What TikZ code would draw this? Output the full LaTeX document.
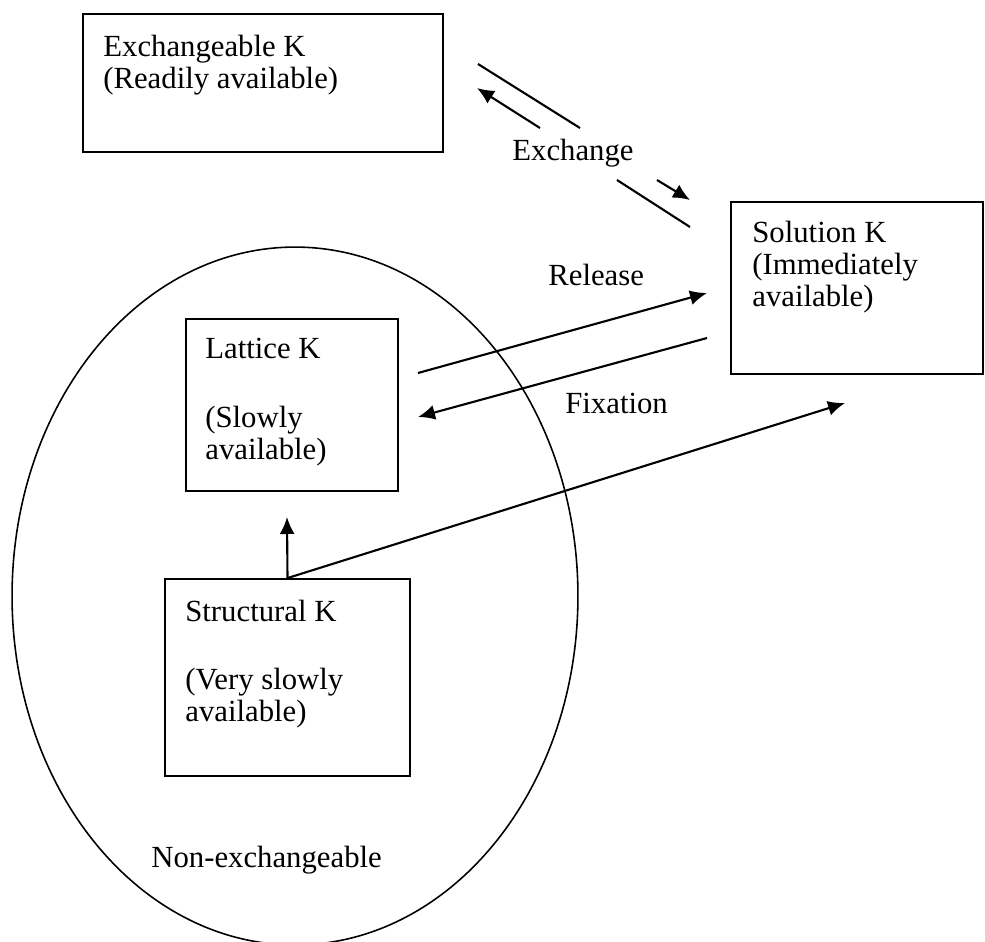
\documentclass[tikz,border=0pt]{standalone}
\usepackage{fontspec}
\setmainfont{Liberation Serif}
\usetikzlibrary{positioning,arrows.meta}
\tikzset{
potbox/.style={rectangle, draw=black, line width=1.1pt, inner sep=0pt},
ktext/.style={align=left, inner sep=0pt, anchor=base west, font=\fontsize{17.5pt}{18.2pt}\selectfont},
flow/.style={line width=1.2pt},
>={Latex[width=3mm,length=3.4mm]},
}
\begin{document}
\begin{tikzpicture}[x=0.02cm, y=-0.02cm]

\clip (0,0) rectangle (985,941);

%Potassium pools
\node[potbox, minimum width=7.2cm, minimum height=2.76cm] (exchbox) at (263,83) {};
\node[potbox, minimum width=5.04cm, minimum height=3.44cm] (solbox) at (857,288) {};
\node[potbox, minimum width=4.24cm, minimum height=3.44cm] (latbox) at (292,405) {};
\node[potbox, minimum width=4.9cm, minimum height=3.94cm] (strbox) at (287.5,677.5) {};
\draw[line width=0.9pt] (295,596) ellipse [x radius=5.66cm, y radius=6.98cm];

% text anchored at the baseline of its last line
\node[ktext] (exchtext) at (103,88) {Exchangeable K\\(Readily available)};
\node[ktext] (soltext) at (752,306) {Solution K\\(Immediately\\available)};
\node[ktext] (lattext) at (205,459) {Lattice K\\[0.74cm](Slowly\\available)};
\node[ktext] (strtext) at (185,721) {Structural K\\[0.72cm](Very slowly\\available)};

%Labels
\node[ktext] (exchange) at (512,160) {Exchange};
\node[ktext] (release) at (548,285) {Release};
\node[ktext] (fixation) at (565,413) {Fixation};
\node[ktext] (nonexch) at (151,867) {Non-exchangeable};

%Arrow ends
\coordinate (ex1) at (478,64);
\coordinate (ex2) at (580,128);
\coordinate (ex3) at (617,180);
\coordinate (ex4) at (690,227);
\coordinate (ea1) at (540,128);
\coordinate (ea2) at (477,88);
\coordinate (ea3) at (657,180);
\coordinate (ea4) at (690,200);
\coordinate (rel1) at (418,373);
\coordinate (rel2) at (707,293);
\coordinate (fix1) at (707,338);
\coordinate (fix2) at (418,417);
\coordinate (tolat) at (287,517);
\coordinate (tosol) at (845,403);

\draw[flow] (ex1) -- (ex2);
\draw[flow] (ex3) -- (ex4);
\draw[flow,->] (ea1) -- (ea2);
\draw[flow,->] (ea3) -- (ea4);
\draw[flow,->] (rel1) -- (rel2);
\draw[flow,->] (fix1) -- (fix2);
\draw[flow,->] (strbox.north) -- (tolat);
\draw[flow,->] (strbox.north) -- (tosol);

\end{tikzpicture}
\end{document}
